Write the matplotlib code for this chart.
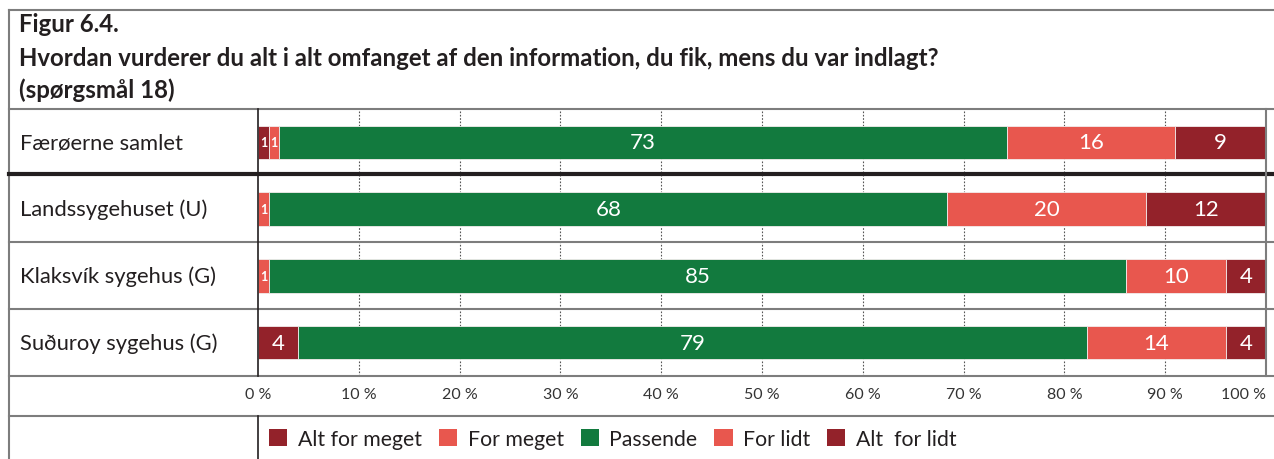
import matplotlib
matplotlib.use("Agg")
import matplotlib.pyplot as plt
from matplotlib.patches import Patch
from matplotlib.transforms import blended_transform_factory
import numpy as np

# data (shares as drawn, labels as printed)
categories = ["Færøerne samlet", "Landssygehuset (U)", "Klaksvík sygehus (G)", "Suðuroy sygehus (G)"]
series_names = ["Alt for meget", "For meget", "Passende", "For lidt", "Alt  for lidt"]
alt_for_meget = [1.1, 0.0, 0.0, 4.0]
for_meget = [1.0, 1.1, 1.1, 0.0]
passende = [72.2, 67.3, 85.0, 78.2]
for_lidt = [16.7, 19.7, 9.9, 13.8]
alt_for_lidt = [9.0, 11.9, 4.0, 4.0]
labels = [
    ["1", "", "", "4"],
    ["1", "1", "1", ""],
    ["73", "68", "85", "79"],
    ["16", "20", "10", "14"],
    ["9", "12", "4", "4"],
]
xticks = list(range(0, 101, 10))

DARK = "#93222a"; LIGHT = "#e8574e"; GREEN = "#127a3e"
INK = "#231f20"; LINE = "#7d7d7d"
colors = [DARK, LIGHT, GREEN, LIGHT, DARK]

plt.rcParams["font.family"] = ["Lato", "DejaVu Sans"]

W, H = 1274, 460
fig = plt.figure(figsize=(W / 100, H / 100), dpi=100)

def fx(px):
    return px / W

def fy(py):
    return 1 - py / H

# bar panel
ax = fig.add_axes([fx(258), fy(377), fx(1266) - fx(258), fy(110) - fy(377)])
ax.set_xlim(0, 100)
ax.set_ylim(len(categories), 0)
for v in xticks[1:-1]:
    ax.axvline(v, color="#555555", lw=0.8, ls=(0, (1.5, 1.5)), zorder=0)

y = np.arange(len(categories)) + 0.5
left = np.zeros(len(categories))
data = [alt_for_meget, for_meget, passende, for_lidt, alt_for_lidt]
for vals, col, labs in zip(data, colors, labels):
    vals = np.array(vals)
    ax.barh(y, vals, left=left, height=0.5, color=col, edgecolor="#f2ecec",
            linewidth=0.6, zorder=2)
    for yi, l, v, lab in zip(y, left, vals, labs):
        if not lab:
            continue
        small = v < 2
        ax.text(l + v / 2, yi, lab, ha="center", va="center", color="white",
                fontsize=9 if small else 16, weight="bold" if small else "normal",
                zorder=3)
    left = left + vals

ax.set_xticks(xticks)
ticklabs = ax.set_xticklabels([f"{v} %" for v in xticks], fontsize=11.5, color="#333333")
ax.tick_params(axis="x", length=0, pad=8)
# last label sits at the frame edge, keep it inside the picture
ticklabs[-1].set_horizontalalignment("right")
ticklabs[-1].set_x(100.7)
ax.set_yticks([])
for s in ax.spines.values():
    s.set_visible(False)

tr = blended_transform_factory(fig.transFigure, ax.transData)
for yi, cat in zip(y, categories):
    ax.text(fx(20), yi, cat, transform=tr, ha="left", va="center",
            fontsize=15.8, color=INK)

# frame / table lines in pixel space
ov = fig.add_axes([0, 0, 1, 1], zorder=5)
ov.set_xlim(0, W)
ov.set_ylim(H, 0)
ov.axis("off")
ov.plot([9, W], [11, 11], color=LINE, lw=1.5)
ov.plot([9, 9], [11, H], color=LINE, lw=1.5)
for yy in [110, 243, 310, 377, 417]:
    ov.plot([9, W], [yy, yy], color=LINE, lw=1.5)
ov.plot([9, W], [175, 175], color=INK, lw=3)
ov.plot([258, 258], [110, 377], color=INK, lw=1.2)
ov.plot([258, 258], [417, H], color=INK, lw=1.2)
ov.plot([1266, 1266], [110, 377], color=LINE, lw=1.5)

# title
tkw = dict(fontsize=17.3, weight="bold", color=INK, va="center")
ov.text(19, 24, "Figur 6.4.", **tkw)
ov.text(19, 58, "Hvordan vurderer du alt i alt omfanget af den information, du fik, mens du var indlagt?", **tkw)
ov.text(19, 90, "(spørgsmål 18)", **tkw)

# legend
handles = [Patch(facecolor=c, edgecolor="none", label=n) for c, n in zip(colors, series_names)]
fig.legend(handles=handles, loc="center left", bbox_to_anchor=(fx(250), fy(440)),
           ncol=5, frameon=False, fontsize=15.3, handlelength=0.85, handleheight=0.85,
           handletextpad=0.5, columnspacing=0.8, labelcolor=INK)

fig.savefig("out.png", dpi=100)
